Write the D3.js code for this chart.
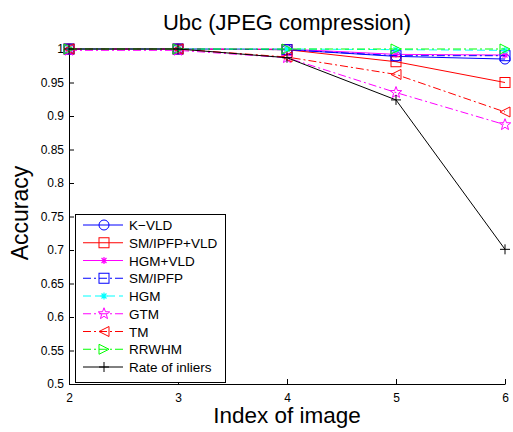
<!DOCTYPE html>
<html>
<meta charset="utf-8">
<style>
body { margin: 0; background: #fff; }
text { font-family: Arial, "Liberation Sans", sans-serif; }
</style>
<body>
<svg width="513" height="432"></svg>
<script src="https://d3js.org/d3.v7.min.js"></script>
<script>

var xIdx = [2, 3, 4, 5, 6];
var yTicks = [0.5, 0.55, 0.6, 0.65, 0.7, 0.75, 0.8, 0.85, 0.9, 0.95, 1];

var kvld      = [1, 1, 0.999, 0.989, 0.985];
var smVld     = [1, 1, 0.999, 0.981, 0.950];
var hgmVld    = [1, 1, 1, 0.992, 0.991];
var smIpfp    = [1, 1, 0.999, 0.990, 0.990];
var hgm       = [1, 1, 1, 0.999, 0.998];
var gtm       = [0.998, 0.998, 0.987, 0.935, 0.887];
var tm        = [1, 1, 0.988, 0.962, 0.906];
var rrwhm     = [1, 1, 1, 1, 1];
var inliers   = [1, 1, 0.987, 0.924, 0.701];

var series = [
  {name: "K\u2212VLD", vals: kvld, color: "#0000ff", dash: null, mark: "circle"},
  {name: "SM/IPFP+VLD", vals: smVld, color: "#ff0000", dash: null, mark: "square"},
  {name: "HGM+VLD", vals: hgmVld, color: "#ff00ff", dash: null, mark: "asterisk"},
  {name: "SM/IPFP", vals: smIpfp, color: "#0000ff", dash: "8,3,2,3", mark: "square"},
  {name: "HGM", vals: hgm, color: "#00ffff", dash: "8,4", mark: "asterisk"},
  {name: "GTM", vals: gtm, color: "#ff00ff", dash: "8,3,2,3", mark: "star"},
  {name: "TM", vals: tm, color: "#ff0000", dash: "8,3,2,3", mark: "triLeft"},
  {name: "RRWHM", vals: rrwhm, color: "#00ff00", dash: "8,3,2,3", mark: "triRight"},
  {name: "Rate of inliers", vals: inliers, color: "#000000", dash: null, mark: "plus"}
];

var svg = d3.select("svg");
var x = d3.scaleLinear().domain([2, 6]).range([69, 505]);
var y = d3.scaleLinear().domain([0.5, 1]).range([384, 49]);

// axes (MATLAB style, ticks inward, no box)
var xAxis = svg.append("g").attr("transform", "translate(0,384)")
  .call(d3.axisBottom(x).tickValues(xIdx).tickSizeInner(-5).tickSizeOuter(0).tickPadding(9).tickFormat(d3.format("d")));
var yAxis = svg.append("g").attr("transform", "translate(69,0)")
  .call(d3.axisLeft(y).tickValues(yTicks).tickSizeInner(-5).tickSizeOuter(0).tickPadding(5).tickFormat(function(d){ return String(+d.toFixed(2)); }));
[xAxis, yAxis].forEach(function(a){
  a.selectAll("path").attr("stroke", "#000").attr("stroke-width", 1);
  a.selectAll("line").attr("stroke", "#000");
  a.selectAll("text").attr("font-size", 12).attr("fill", "#000").attr("font-family", "Arial, 'Liberation Sans', sans-serif");
});

function drawMarker(g, type, cx, cy, color) {
  var s = 5;
  if (type === "circle") {
    g.append("circle").attr("cx", cx).attr("cy", cy).attr("r", s).attr("fill", "none").attr("stroke", color);
  } else if (type === "square") {
    g.append("rect").attr("x", cx - s).attr("y", cy - s).attr("width", 2 * s).attr("height", 2 * s).attr("fill", "none").attr("stroke", color);
  } else if (type === "triLeft") {
    g.append("path").attr("d", "M" + (cx - s) + "," + cy + "L" + (cx + s) + "," + (cy - s) + "L" + (cx + s) + "," + (cy + s) + "Z").attr("fill", "none").attr("stroke", color);
  } else if (type === "triRight") {
    g.append("path").attr("d", "M" + (cx + s) + "," + cy + "L" + (cx - s) + "," + (cy - s) + "L" + (cx - s) + "," + (cy + s) + "Z").attr("fill", "none").attr("stroke", color);
  } else if (type === "star") {
    var pts = [];
    for (var i = 0; i < 10; i++) {
      var r = i % 2 === 0 ? s + 1 : (s + 1) * 0.42;
      var a = -Math.PI / 2 + i * Math.PI / 5;
      pts.push([cx + r * Math.cos(a), cy + r * Math.sin(a)]);
    }
    g.append("path").attr("d", "M" + pts.join("L") + "Z").attr("fill", "none").attr("stroke", color);
  } else if (type === "plus") {
    g.append("path").attr("d", "M" + (cx - s) + "," + cy + "H" + (cx + s) + "M" + cx + "," + (cy - s) + "V" + (cy + s)).attr("stroke", color);
  } else if (type === "asterisk") {
    var d = "";
    for (var k = 0; k < 4; k++) {
      var an = k * Math.PI / 4;
      var dx = 3.5 * Math.cos(an), dy = 3.5 * Math.sin(an);
      d += "M" + (cx - dx) + "," + (cy - dy) + "L" + (cx + dx) + "," + (cy + dy);
    }
    g.append("path").attr("d", d).attr("stroke", color).attr("stroke-width", 1.2);
  }
}

var line = d3.line().x(function(d, i){ return x(xIdx[i]); }).y(function(d){ return y(d); });

series.forEach(function(s) {
  var g = svg.append("g");
  g.append("path").datum(s.vals).attr("d", line)
    .attr("fill", "none").attr("stroke", s.color).attr("stroke-width", 1)
    .attr("stroke-dasharray", s.dash);
  s.vals.forEach(function(v, i){ drawMarker(g, s.mark, x(xIdx[i]), y(v), s.color); });
});

// legend
var lg = svg.append("g");
lg.append("rect").attr("x", 75.5).attr("y", 214.5).attr("width", 150).attr("height", 168)
  .attr("fill", "#fff").attr("stroke", "#000").attr("stroke-width", 1);
series.forEach(function(s, i) {
  var yy = 225 + i * 17.75;
  lg.append("line").attr("x1", 83).attr("x2", 123).attr("y1", yy).attr("y2", yy)
    .attr("stroke", s.color).attr("stroke-dasharray", s.dash);
  drawMarker(lg, s.mark, 104, yy, s.color);
  lg.append("text").attr("x", 129).attr("y", yy + 5).attr("font-size", 13.5).text(s.name);
});

svg.append("text").attr("x", 287).attr("y", 30).attr("text-anchor", "middle").attr("font-size", 22).text("Ubc (JPEG compression)");
svg.append("text").attr("x", 287).attr("y", 423).attr("text-anchor", "middle").attr("font-size", 22.5).text("Index of image");
svg.append("text").attr("transform", "translate(28,213) rotate(-90)").attr("text-anchor", "middle").attr("font-size", 23).text("Accuracy");

</script>
</body>
</html>
